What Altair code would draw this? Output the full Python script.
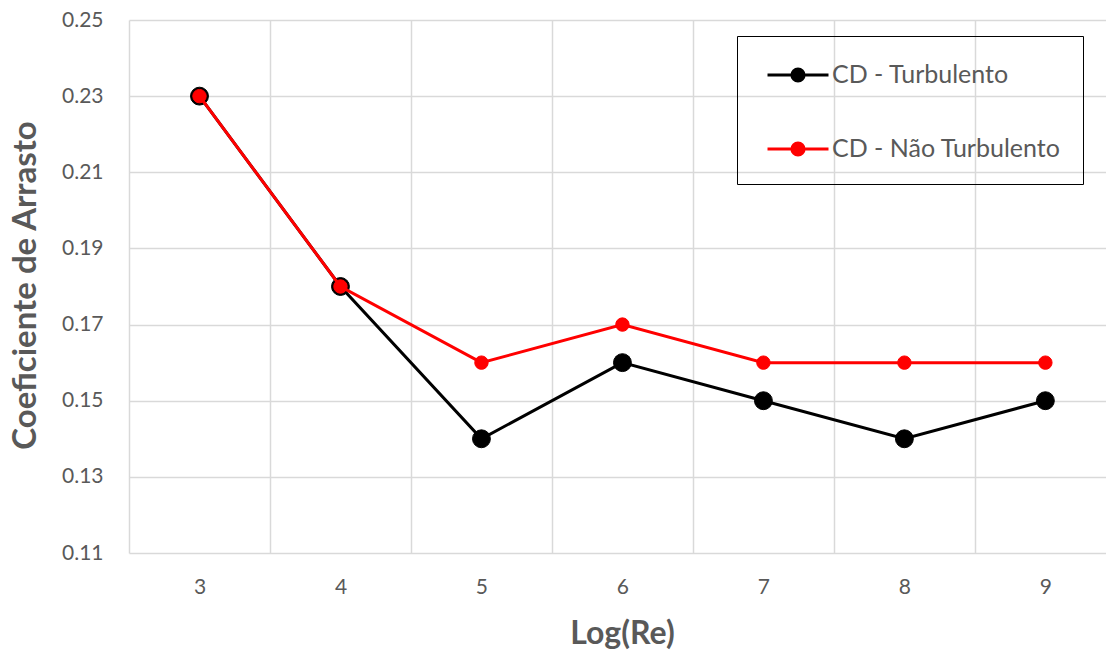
import altair as alt
import pandas as pd

# ---- data ----
log_re = [3, 4, 5, 6, 7, 8, 9]
cd_turbulento = [0.23, 0.18, 0.14, 0.16, 0.15, 0.14, 0.15]
cd_nao_turbulento = [0.23, 0.18, 0.16, 0.17, 0.16, 0.16, 0.16]
series_names = ["CD - Turbulento", "CD - Não Turbulento"]
series_colors = ["#000000", "#ff0000"]
marker_sizes = [320, 180]
y_ticks = [0.11, 0.13, 0.15, 0.17, 0.19, 0.21, 0.23, 0.25]
x_axis_values = [2.5, 3, 3.5, 4, 4.5, 5, 5.5, 6, 6.5, 7, 7.5, 8, 8.5, 9]

rows = []
for name, vals in zip(series_names, [cd_turbulento, cd_nao_turbulento]):
    for xv, v in zip(log_re, vals):
        rows.append({"logre": xv, "cd": v, "serie": name})
df = pd.DataFrame(rows)

GRAY = "#595959"
GRID = "#d9d9d9"
FONT = "Lato"

color_scale = alt.Scale(domain=series_names, range=series_colors)

x_enc = alt.X(
    "logre:Q",
    scale=alt.Scale(domain=[2.5, 9.43], nice=False, zero=False),
    axis=alt.Axis(
        values=x_axis_values,
        labelExpr="datum.value % 1 == 0 ? format(datum.value, 'd') : ''",
        gridOpacity={"condition": {"test": "datum.value % 1 != 0", "value": 1}, "value": 0},
        ticks=False,
        domain=False,
        labelPadding=34,
        labelBaseline="middle",
        labelFontSize=21,
        labelColor=GRAY,
        title="Log(Re)",
        titleFontSize=32,
        titleFontWeight="bold",
        titleColor=GRAY,
        titleX=493,
        titleY=80,
        titleBaseline="middle",
        titleAlign="center",
    ),
)
y_enc = alt.Y(
    "cd:Q",
    scale=alt.Scale(domain=[0.11, 0.25], nice=False, zero=False),
    axis=alt.Axis(
        values=y_ticks,
        format=".2f",
        ticks=False,
        domain=False,
        labelPadding=26,
        labelFontSize=21,
        labelColor=GRAY,
        title="Coeficiente de Arrasto",
        titleFontSize=33,
        titleFontWeight="bold",
        titleColor=GRAY,
        titleAngle=-90,
        titleX=-104,
        titleY=265,
        titleBaseline="middle",
        titleAlign="center",
    ),
)

PAD = 22
legend = alt.Legend(
    title=None,
    orient="none",
    legendX=608,
    legendY=16,
    symbolType="M-2,0H2M-0.4,0A0.4,0.4,0,1,0,0.4,0A0.4,0.4,0,1,0,-0.4,0Z",
    symbolSize=930,
    symbolStrokeWidth=3,
    symbolOffset=22,
    labelOffset=17,
    labelFontSize=25,
    labelColor=GRAY,
    labelFont=FONT,
    labelLimit=400,
    rowPadding=44,
    padding=PAD,
    strokeColor="#000000",
)

layers = []
for i, (name, size) in enumerate(zip(series_names, marker_sizes)):
    base = alt.Chart(df).transform_filter(alt.datum.serie == name)
    line = base.mark_line(strokeWidth=3).encode(
        x=x_enc,
        y=y_enc,
        stroke=alt.Stroke("serie:N", scale=color_scale, legend=legend if i == 0 else None),
    )
    pts = base.mark_point(filled=True, opacity=1, size=size, strokeWidth=1).encode(
        x=x_enc,
        y=y_enc,
        fill=alt.Fill("serie:N", scale=color_scale, legend=legend if i == 0 else None),
        stroke=alt.Stroke("serie:N", scale=color_scale, legend=legend if i == 0 else None),
    )
    layers += [line, pts]

chart = (
    alt.layer(*layers)
    .properties(
        width=977,
        height=533,
        autosize=alt.AutoSizeParams(type="none"),
        padding={"left": 129, "top": 20, "right": 0, "bottom": 102},
    )
    .configure_view(stroke=None)
    .configure_axis(gridColor=GRID, gridWidth=1.5, labelFont=FONT, titleFont=FONT)
    .configure_legend(labelFont=FONT)
)

chart.save("out.html", embed_options={"renderer": "svg", "actions": False})
